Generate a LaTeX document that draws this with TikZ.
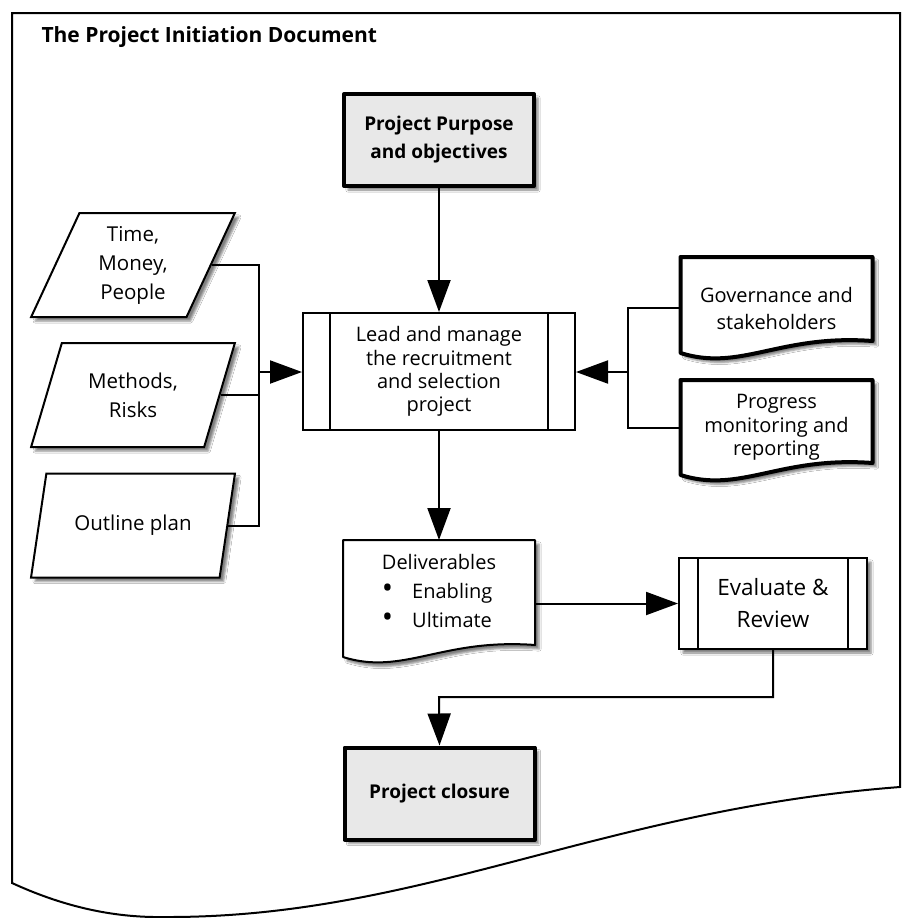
\documentclass[tikz,border=0pt]{standalone}
\usepackage{fontspec}
\setmainfont{Open Sans}
\usepackage{tikz}
\usetikzlibrary{positioning, shapes.geometric, shadows.blur, arrows.meta}
\definecolor{key-gray}{rgb}{0.91, 0.91, 0.91}
\newcommand{\bigdot}{\raisebox{0pt}[0pt][0pt]{\scalebox{1.5}{\textbullet}}}

\begin{document}
\begin{tikzpicture}[x=1pt, y=-1pt]
	\tikzset{shade/.style={blur shadow={shadow xshift=4pt, shadow yshift=-4pt, shadow opacity=50}}}
	\tikzset{key/.style={rectangle, draw, line width=4pt, line join=round, fill=key-gray, shade, align=center, minimum width=190pt, minimum height=92pt, font=\fontsize{19}{28}\selectfont\bfseries}}
	\tikzset{proc/.style={rectangle, draw, line width=2pt, fill=white, align=center, font=\fontsize{20}{23.3}\selectfont,
			path picture={\draw[line width=2pt] ([xshift=#1]path picture bounding box.north west) -- ([xshift=#1]path picture bounding box.south west);
				\draw[line width=2pt] ([xshift=-#1]path picture bounding box.north east) -- ([xshift=-#1]path picture bounding box.south east);}}}
	\tikzset{inp/.style={trapezium, trapezium left angle=68, trapezium right angle=112, trapezium stretches=true, draw, line width=2pt, fill=white, shade, align=center, minimum width=204pt, minimum height=104pt, font=\fontsize{20.5}{29}\selectfont}}
	\tikzset{doc/.style={rectangle, align=center, minimum width=192pt, font=\fontsize{20}{27}\selectfont}}
	\tikzset{pics/docpic/.style n args={5}{code={
		\draw[line width=#1, line join=round, fill=white, shade] (-96,-#2) -- (96,-#2) -- (96,#2-12)
			.. controls (3,#2-19) and (-36,#2+19) .. (-96,#2) -- cycle;
		\coordinate (-top) at (0,-#2);
		\node[doc, #4] (-box) at (0,#3) {#5};
	}}}
	\tikzset{arr/.style={-{Triangle[length=32pt, width=23pt]}, line width=2pt}}
	\tikzset{wire/.style={line width=2pt}}

	\useasboundingbox (0,0) rectangle (903,918);
	\draw[line width=2pt, fill=white] (12,13) -- (900,13) -- (900,787)
		.. controls (600,810) and (420,918) .. (165,917)
		.. controls (110,918) and (60,905) .. (12,883) -- cycle;

	\node[anchor=west, font=\fontsize{21}{24}\selectfont\bfseries] (title) at (38,37) {The Project Initiation Document};

	\node[key] (purpose) at (439,140) {Project Purpose\\and objectives};
	\node[proc=27pt, minimum width=272pt, minimum height=117pt] (lead) at (439,371.5) {Lead and manage\\the recruitment\\and selection\\project};

	\node[inp] (time) at (133,265) {Time,\\Money,\\People};
	\node[inp] (methods) at (133,395) {Methods,\\Risks};
	\node[inp] (outline) at (133,525.5) {Outline plan};

	\pic (gov) at (776.5,305) {docpic={4pt}{48}{3}{}{Governance and\\stakeholders}};
	\pic (progress) at (776.5,427.5) {docpic={4pt}{47.5}{0}{font=\fontsize{20}{23.5}\selectfont}{Progress\\monitoring and\\reporting}};
	\pic (deliv) at (439,598.5) {docpic={2pt}{58.5}{-8}{align=left, font=\fontsize{20}{29}\selectfont}{Deliverables\\\bigdot\hspace{19pt}Enabling\\\bigdot\hspace{19pt}Ultimate}};

	\node[proc=19pt, shade, minimum width=188pt, minimum height=91pt, font=\fontsize{22.5}{32}\selectfont] (eval) at (773,603.5) {Evaluate \&\\Review};

	\node[key] (closure) at (439.5,793.5) {Project closure};

	\coordinate (lbus) at (259,372);
	\coordinate (rbus) at (628,372);
	\coordinate (turn) at (439,697);

	\draw[arr] (purpose) -- (lead);
	\draw[wire] (time.east) -| (lbus);
	\draw[wire] (outline.east) -| (lbus);
	\draw[wire] (methods.east) -- (methods.east -| lbus);
	\draw[arr] (lbus) -- (lbus -| lead.west);
	\draw[wire] (gov-box.west) -| (rbus);
	\draw[wire] (progress-box.west) -| (rbus);
	\draw[arr] (rbus) -- (rbus -| lead.east);
	\draw[arr] (lead) -- (deliv-top);
	\draw[arr] (deliv-box.east |- eval.west) -- (eval.west);
	\draw[arr] (eval.south) |- (turn) -- (closure.north);
\end{tikzpicture}
\end{document}
